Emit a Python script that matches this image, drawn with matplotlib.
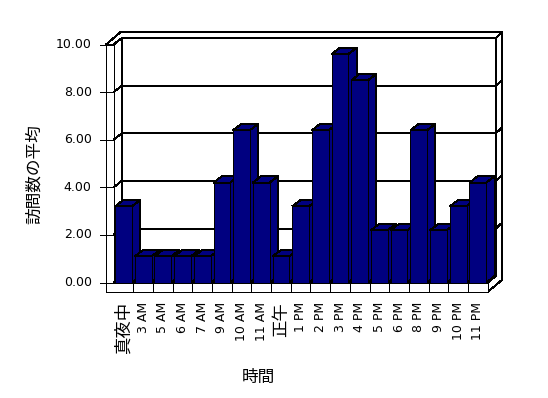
import matplotlib
matplotlib.use('Agg')
import matplotlib.pyplot as plt
from matplotlib.patches import Polygon

# ---------------- data ----------------
categories = ['真夜中', '3 AM', '5 AM', '6 AM', '7 AM', '9 AM', '10 AM', '11 AM',
              '正午', '1 PM', '2 PM', '3 PM', '4 PM', '5 PM', '6 PM', '8 PM',
              '9 PM', '10 PM', '11 PM']
values = [3.2, 1.1, 1.1, 1.1, 1.1, 4.2, 6.4, 4.2, 1.1, 3.2, 6.4, 9.6, 8.5,
          2.2, 2.2, 6.4, 2.2, 3.2, 4.2]
yticks = [0, 2, 4, 6, 8, 10]
ytick_labels = ['0.00', '2.00', '4.00', '6.00', '8.00', '10.00']
x_title = '時間'
y_title = '訪問数の平均'

BAR_COLOR = '#000080'
LW = 0.7

W, H = 548, 398
fig = plt.figure(figsize=(W / 100, H / 100), dpi=100)
fig.patch.set_facecolor('white')

# front plane of the plot (pixel coords from top-left)
X0, X1 = 113.6, 487.7
YB, YT = 282.5, 44.5
ax = fig.add_axes([X0 / W, 1 - YB / H, (X1 - X0) / W, (YB - YT) / H])
n = len(categories)
ax.set_xlim(-0.5, n - 0.5)
ax.set_ylim(0, 10)
ax.axis('off')

pxc = (X1 - X0) / n     # pixels per category
pyu = (YB - YT) / 10    # pixels per value unit


def dxp(p):
    return p / pxc


def dyp(p):
    return p / pyu


xl, xr = -0.5, n - 0.5
yb, yt = 0, 10
tL = dxp(7.6)          # left wall thickness
tF = dyp(9.5)          # floor thickness
d1x, d1y = dxp(8.0), dyp(6.3)     # inner depth offset
d2x, d2y = dxp(14.5), dyp(12.3)   # outer depth offset


def poly(pts, fc='white', ec='black', z=1):
    p = Polygon(pts, closed=True, facecolor=fc, edgecolor=ec, linewidth=LW,
                clip_on=False, zorder=z, joinstyle='miter', antialiased=False)
    ax.add_patch(p)


def line(xs, ys, z=2):
    ax.plot(xs, ys, color='black', lw=LW, clip_on=False, zorder=z,
            solid_capstyle='butt', antialiased=False)


# back wall front face
poly([(xl + d1x, yb + d1y), (xr + d1x, yb + d1y), (xr + d1x, yt + d1y),
      (xl + d1x, yt + d1y)])
# top face of back wall + left wall
poly([(xl - tL, yt), (xl, yt), (xl + d1x, yt + d1y), (xr + d1x, yt + d1y),
      (xr + d2x, yt + d2y), (xl - tL + d2x, yt + d2y)])
# right side face of back wall / floor
poly([(xr, yb), (xr + d1x, yb + d1y), (xr + d1x, yt + d1y),
      (xr + d2x, yt + d2y), (xr + d2x, yb - tF + d2y), (xr, yb - tF)])
# left wall inner face
poly([(xl, yb), (xl, yt), (xl + d1x, yt + d1y), (xl + d1x, yb + d1y)])
# left wall front face
poly([(xl - tL, yb), (xl, yb), (xl, yt), (xl - tL, yt)])
# floor top face
poly([(xl, yb), (xr, yb), (xr + d1x, yb + d1y), (xl + d1x, yb + d1y)])
# floor front face
poly([(xl - tL, yb - tF), (xr, yb - tF), (xr, yb), (xl - tL, yb)])

# gridlines + ticks
for v in yticks:
    line([xl - tL - dxp(6), xl], [v, v])
    if 0 < v < 10:
        line([xl, xl + d1x, xr + d1x, xr + d2x],
             [v, v + d1y, v + d1y, v + d2y])

# category dividers on floor front face
for k in range(1, n):
    line([k - 0.5, k - 0.5], [yb - tF, yb], z=3)

# bars
hw = 0.425
bx, by = dxp(8.3), dyp(6.3)
for i, v in enumerate(values):
    z = 5 + i * 0.01
    poly([(i + hw, 0), (i + hw + bx, by), (i + hw + bx, v + by), (i + hw, v)],
         fc=BAR_COLOR, z=z)
    poly([(i - hw, v), (i + hw, v), (i + hw + bx, v + by), (i - hw + bx, v + by)],
         fc=BAR_COLOR, z=z)
    poly([(i - hw, 0), (i + hw, 0), (i + hw, v), (i - hw, v)],
         fc=BAR_COLOR, z=z + 0.005)

# y tick labels
for v, lab in zip(yticks, ytick_labels):
    ax.annotate(lab, xy=(xl, v), xytext=(-(X0 - 91.7) * 0.72, 0),
                textcoords='offset points', ha='right', va='center',
                fontsize=9, family=['DejaVu Sans'])

# x tick labels
for i, lab in enumerate(categories):
    cjk = any(ord(c) > 127 for c in lab)
    ax.annotate(lab, xy=(i, 0), xytext=(0, -(302 - YB) * 0.72),
                textcoords='offset points', ha='center', va='top',
                rotation=90, fontsize=12.5 if cjk else 9,
                family=['DejaVu Sans', 'Noto Sans CJK JP'])

# axis titles
fig.text(34 / W, 1 - 173.7 / H, y_title, rotation=90, ha='center', va='center',
         fontsize=12, family=['Noto Sans CJK JP', 'DejaVu Sans'])
fig.text(258 / W, 1 - 377 / H, x_title, ha='center', va='center',
         fontsize=12, family=['Noto Sans CJK JP', 'DejaVu Sans'])

fig.savefig('out.png', dpi=100, facecolor='white')
